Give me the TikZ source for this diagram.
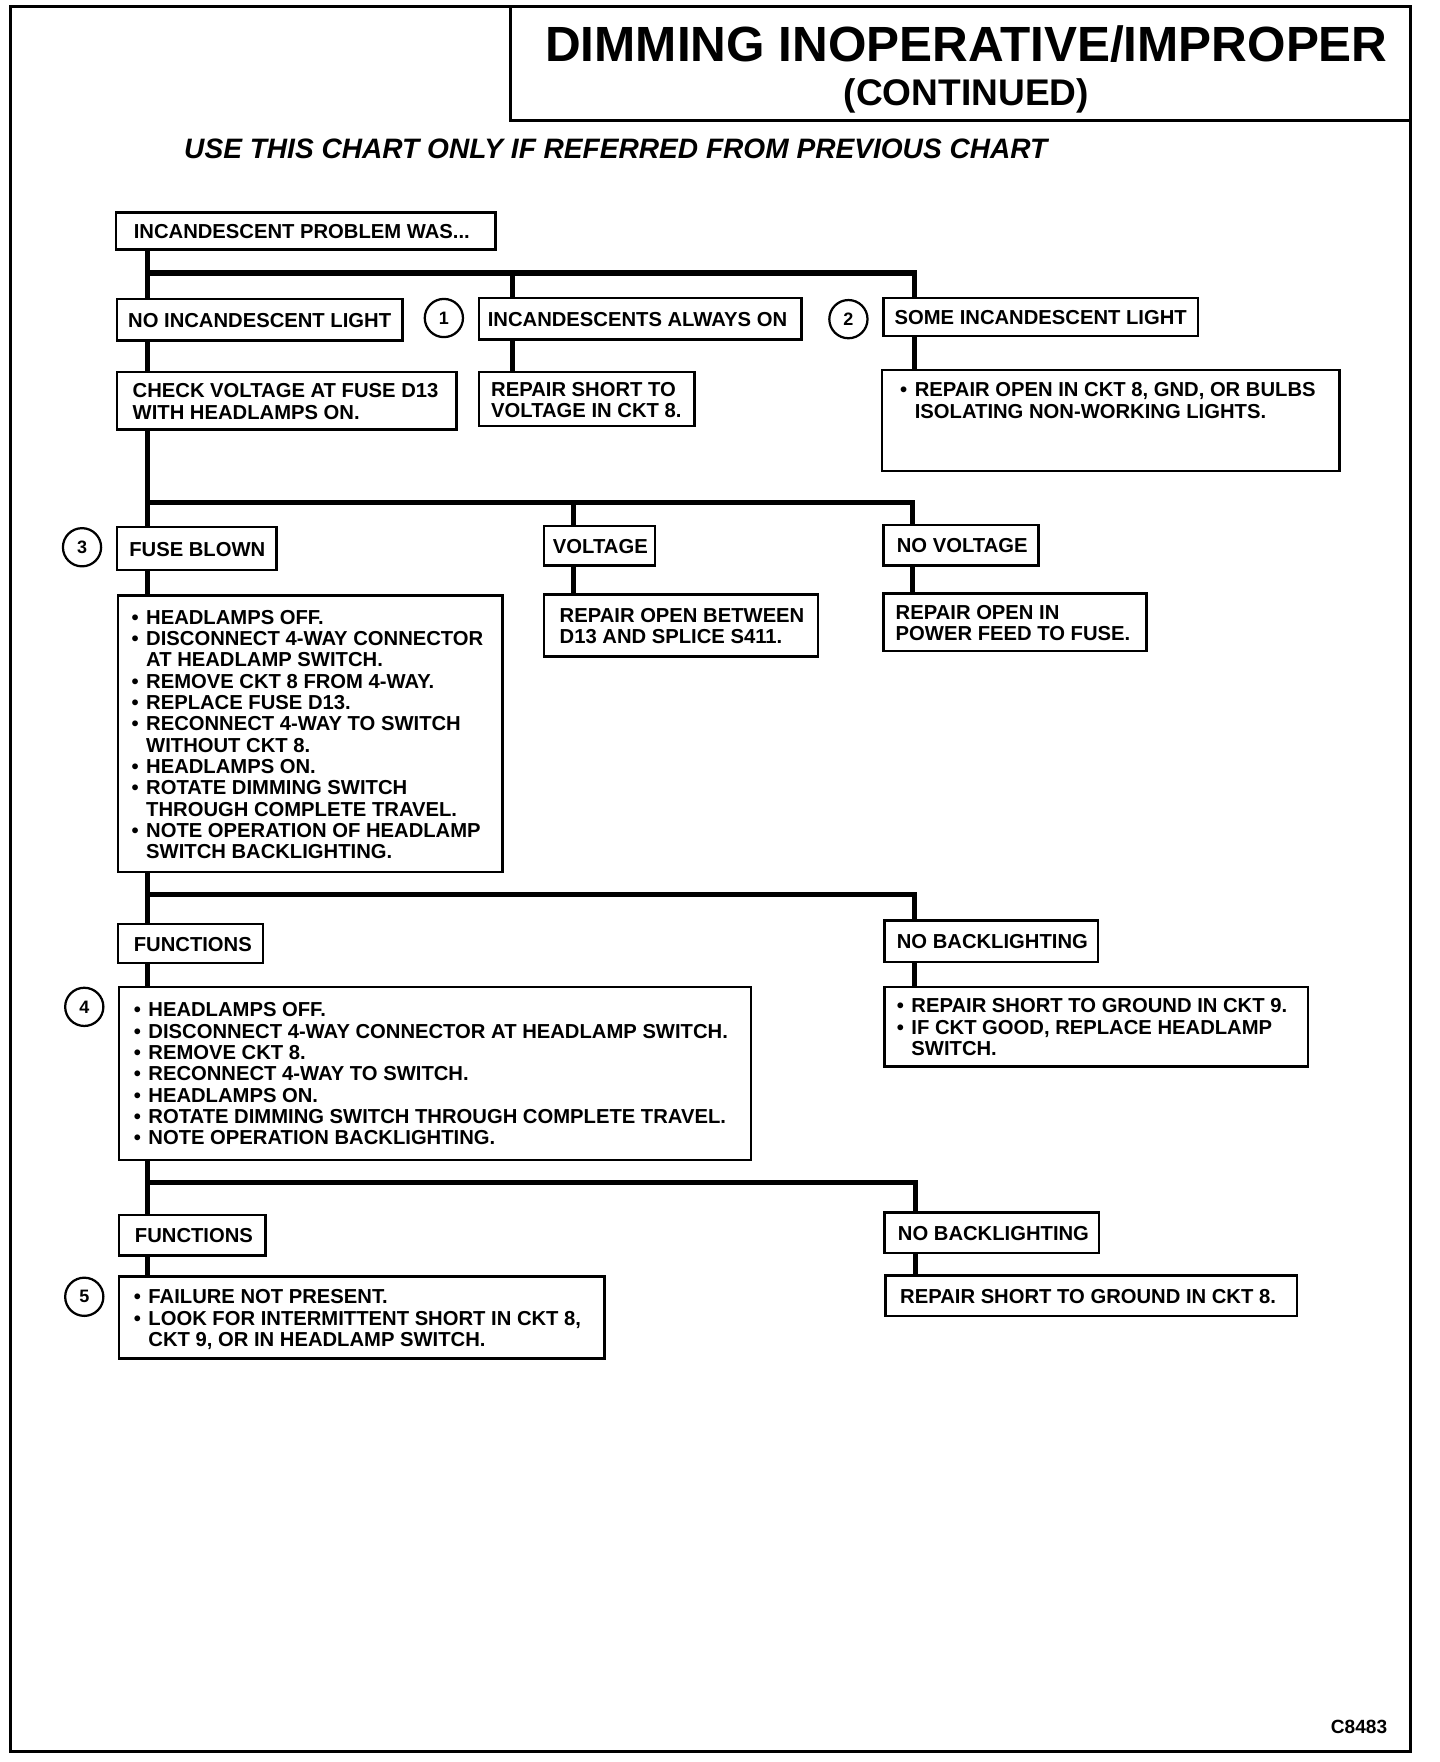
\documentclass[tikz,border=0pt]{standalone}
\usepackage{fontspec}
\setmainfont{Liberation Sans}
\newcommand\boxfont{\fontsize{18}{19}\selectfont\bfseries}
\newcommand\numfont{\fontsize{16}{16}\selectfont\bfseries}
\newcommand\titlefont{\fontsize{44}{46}\selectfont\bfseries}
\newcommand\contfont{\fontsize{33}{35}\selectfont\bfseries}
\newcommand\notefont{\fontsize{25}{27}\selectfont\bfseries\itshape}
\newcommand\codefont{\fontsize{17}{18}\selectfont\bfseries}
\newcommand\bx[3]{\makebox[#1pt][l]{\hspace*{#2pt}\raisebox{-3pt}[\height][\depth]{\begin{tabular}{@{}l@{}}#3\end{tabular}}}}
\newcommand\bul{\makebox[13pt][l]{•}}
\newcommand\ind{\hspace*{13pt}}
\begin{document}
\begin{tikzpicture}[x=1pt,y=-1pt,
  box/.style={draw, line width=2.2pt, inner sep=0pt, anchor=north west, font=\boxfont},
  num/.style={circle, draw, line width=2pt, minimum size=34pt, inner sep=0pt, font=\numfont},
  conn/.style={line width=4.6pt},
  frame/.style={line width=2.8pt}]
\useasboundingbox (0,0) rectangle (1281,1568);
\fill[white] (0,0) rectangle (1281,1568);
% page frame and title box
\draw[frame] (9,6) rectangle (1255,1559);
\draw[frame] (454,6) -- (454,107) -- (1255,107);
\node[font=\titlefont, anchor=base] (title) at (860,55) {DIMMING INOPERATIVE/IMPROPER};
\node[font=\contfont, anchor=base] (cont) at (860,94) {(CONTINUED)};
\node[font=\notefont, anchor=base] (note) at (548,141) {USE THIS CHART ONLY IF REFERRED FROM PREVIOUS CHART};
\node[font=\codefont, anchor=base east] (code) at (1238,1543) {C8483};

% level 0/1
\node[box, minimum height=33pt] (b1) at (102,188) {\bx{338}{16}{INCANDESCENT PROBLEM WAS...}};
\node[box, minimum height=37pt] (b2) at (103,265) {\bx{254}{10}{NO INCANDESCENT LIGHT}};
\node[num] (n1) at (395,283) {1};
\node[box, minimum height=37pt] (b3) at (425,264) {\bx{287}{8}{INCANDESCENTS ALWAYS ON}};
\node[num] (n2) at (755,284) {2};
\node[box, minimum height=34pt] (b4) at (785,264) {\bx{280}{10}{SOME INCANDESCENT LIGHT}};
\node[box, minimum height=51pt] (b5) at (103,330) {\bx{302}{14}{CHECK VOLTAGE AT FUSE D13\\WITH HEADLAMPS ON.}};
\node[box, minimum height=48pt] (b6) at (425,330) {\bx{192}{11}{REPAIR SHORT TO\\VOLTAGE IN CKT 8.}};
\node[box, minimum height=90pt] (b7) at (784,328) {\bx{407}{16}{\bul REPAIR OPEN IN CKT 8, GND, OR BULBS\\\ind ISOLATING NON-WORKING LIGHTS.\\~\\[-1.4pt]~}};

% level 2
\node[num] (n3) at (73,487) {3};
\node[box, minimum height=38pt] (b9) at (103,468) {\bx{142}{11}{FUSE BLOWN}};
\node[box, minimum height=35pt] (b10) at (483,467) {\bx{99}{8}{VOLTAGE}};
\node[box, minimum height=36pt] (b11) at (785,466) {\bx{138}{12}{NO VOLTAGE}};
\node[box, minimum height=246pt] (b12) at (104,529) {\bx{342}{12}{%
\bul HEADLAMPS OFF.\\
\bul DISCONNECT 4-WAY CONNECTOR\\
\ind AT HEADLAMP SWITCH.\\
\bul REMOVE CKT 8 FROM 4-WAY.\\
\bul REPLACE FUSE D13.\\
\bul RECONNECT 4-WAY TO SWITCH\\
\ind WITHOUT CKT 8.\\
\bul HEADLAMPS ON.\\
\bul ROTATE DIMMING SWITCH\\
\ind THROUGH COMPLETE TRAVEL.\\
\bul NOTE OPERATION OF HEADLAMP\\
\ind SWITCH BACKLIGHTING.}};
\node[box, minimum height=55pt] (b13) at (483,528) {\bx{244}{14}{REPAIR OPEN BETWEEN\\D13 AND SPLICE S411.}};
\node[box, minimum height=51pt] (b14) at (785,527) {\bx{234}{11}{REPAIR OPEN IN\\POWER FEED TO FUSE.}};

% level 3
\node[box, minimum height=35pt] (b15) at (104,821) {\bx{129}{14}{FUNCTIONS}};
\node[box, minimum height=37pt] (b16) at (786,818) {\bx{190}{11}{NO BACKLIGHTING}};
\node[num] (n4) at (75,896) {4};
\node[box, minimum height=154pt] (b18) at (105,877) {\bx{562}{13}{%
\bul HEADLAMPS OFF.\\
\bul DISCONNECT 4-WAY CONNECTOR AT HEADLAMP SWITCH.\\
\bul REMOVE CKT 8.\\
\bul RECONNECT 4-WAY TO SWITCH.\\
\bul HEADLAMPS ON.\\
\bul ROTATE DIMMING SWITCH THROUGH COMPLETE TRAVEL.\\
\bul NOTE OPERATION BACKLIGHTING.}};
\node[box, minimum height=71pt] (b19) at (786,877) {\bx{377}{11}{%
\bul REPAIR SHORT TO GROUND IN CKT 9.\\
\bul IF CKT GOOD, REPLACE HEADLAMP\\
\ind SWITCH.}};

% level 4
\node[box, minimum height=36pt] (b20) at (105,1080) {\bx{130}{14}{FUNCTIONS}};
\node[box, minimum height=36pt] (b21) at (786,1078) {\bx{191}{12}{NO BACKLIGHTING}};
\node[num] (n5) at (75,1154) {5};
\node[box, minimum height=73pt] (b23) at (105,1135) {\bx{432}{13}{%
\bul FAILURE NOT PRESENT.\\
\bul LOOK FOR INTERMITTENT SHORT IN CKT 8,\\
\ind CKT 9, OR IN HEADLAMP SWITCH.}};
\node[box, minimum height=36pt] (b24) at (787,1134) {\bx{366}{13}{REPAIR SHORT TO GROUND IN CKT 8.}};

% connectors
\coordinate (j1) at (131,243);
\coordinate (k1) at (456,243);
\coordinate (m1) at (814,243);
\draw[conn] (j1 |- b1.south) -- (j1 |- b2.north);
\draw[conn] (j1) -- (m1) -- (m1 |- b4.north);
\draw[conn] (k1) -- (k1 |- b3.north);
\draw[conn] (k1 |- b3.south) -- (k1 |- b6.north);
\draw[conn] (m1 |- b4.south) -- (m1 |- b7.north);
\draw[conn] (j1 |- b2.south) -- (j1 |- b5.north);

\coordinate (j2) at (131,447);
\coordinate (k2) at (510,447);
\coordinate (m2) at (812,447);
\draw[conn] (j2 |- b5.south) -- (j2 |- b9.north);
\draw[conn] (j2) -- (m2) -- (m2 |- b11.north);
\draw[conn] (k2) -- (k2 |- b10.north);
\draw[conn] (k2 |- b10.south) -- (k2 |- b13.north);
\draw[conn] (m2 |- b11.south) -- (m2 |- b14.north);
\draw[conn] (j2 |- b9.south) -- (j2 |- b12.north);

\coordinate (j3) at (131,796);
\coordinate (m3) at (814,796);
\draw[conn] (j3 |- b12.south) -- (j3 |- b15.north);
\draw[conn] (j3) -- (m3) -- (m3 |- b16.north);
\draw[conn] (m3 |- b16.south) -- (m3 |- b19.north);
\draw[conn] (j3 |- b15.south) -- (j3 |- b18.north);

\coordinate (j4) at (131,1052);
\coordinate (m4) at (815,1052);
\draw[conn] (j4 |- b18.south) -- (j4 |- b20.north);
\draw[conn] (j4) -- (m4) -- (m4 |- b21.north);
\draw[conn] (m4 |- b21.south) -- (m4 |- b24.north);
\draw[conn] (j4 |- b20.south) -- (j4 |- b23.north);
\end{tikzpicture}
\end{document}
